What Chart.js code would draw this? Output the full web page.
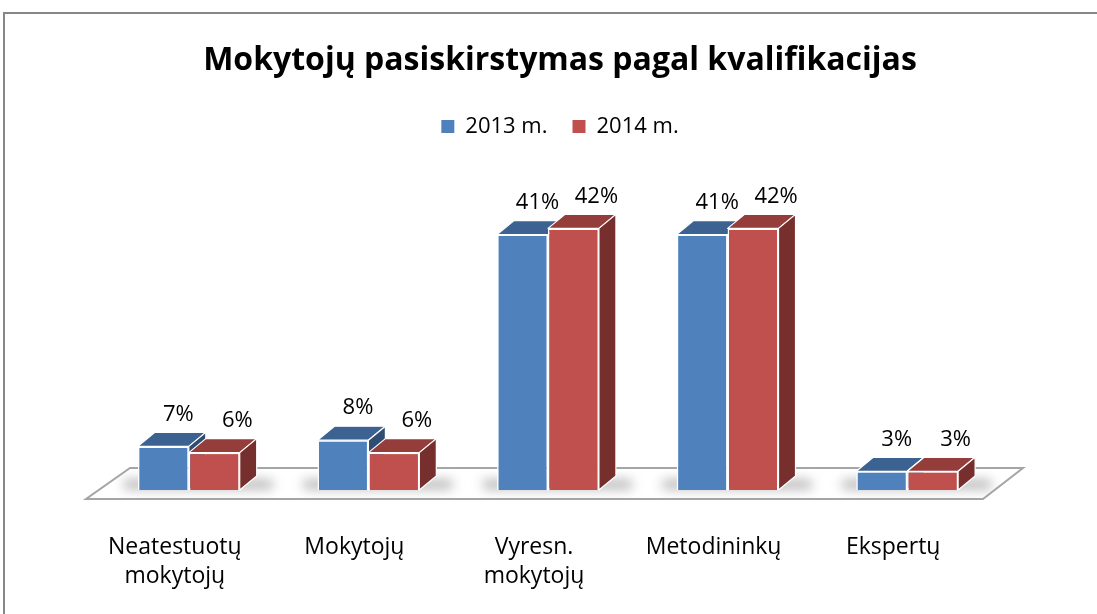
<!DOCTYPE html>
<html>
<head>
<meta charset="utf-8">
<script src="https://cdn.jsdelivr.net/npm/chart.js@4.4.1/dist/chart.umd.min.js"></script>
<style>
  html, body { margin: 0; padding: 0; background: #fff; overflow: hidden; }
  #frame { position: absolute; left: 3px; top: 12px; width: 1200px; height: 700px; border: 2px solid #878787; }
  #wrap { position: absolute; left: 0; top: 0; width: 1097px; height: 614px; }
</style>
</head>
<body>
<div id="frame"></div>
<div id="wrap"><canvas id="myChart"></canvas></div>
<script>
  const categories = [['Neatestuotų', 'mokytojų'], 'Mokytojų', ['Vyresn.', 'mokytojų'], 'Metodininkų', 'Ekspertų'];
  const seriesNames = ['2013 m.', '2014 m.'];
  const values2013 = [7, 8, 41, 41, 3];
  const values2014 = [6, 6, 42, 42, 3];

  const frontColors = ['#4F81BD', '#C0504D'];
  const topColors = ['#3C6291', '#953D3A'];
  const sideColors = ['#2F4D73', '#772F2E'];
  const depthX = 17, depthY = -14; // fake 3d depth
  const labelShift = [-2, 6];

  function barProps(bar) {
    return bar.getProps(['x', 'y', 'base', 'width'], true);
  }

  function drawFaces(ctx, bar, i) {
    const { x, y, base, width } = barProps(bar);
    const l = x - width / 2, r = x + width / 2;
    ctx.save();
    ctx.strokeStyle = '#fff';
    ctx.lineWidth = 1.2;
    ctx.lineJoin = 'round';
    // top face
    ctx.beginPath();
    ctx.moveTo(l, y);
    ctx.lineTo(r, y);
    ctx.lineTo(r + depthX, y + depthY);
    ctx.lineTo(l + depthX, y + depthY);
    ctx.closePath();
    ctx.fillStyle = topColors[i];
    ctx.fill();
    ctx.stroke();
    // right side
    ctx.beginPath();
    ctx.moveTo(r, y);
    ctx.lineTo(r + depthX, y + depthY);
    ctx.lineTo(r + depthX, base + depthY);
    ctx.lineTo(r, base);
    ctx.closePath();
    ctx.fillStyle = sideColors[i];
    ctx.fill();
    ctx.stroke();
    ctx.restore();
  }

  const bar3d = {
    id: 'bar3d',
    beforeDatasetsDraw(chart) {
      const { ctx, chartArea } = chart;
      const base = chart.scales.y.getPixelForValue(0);
      const L = chartArea.left, R = chartArea.right;
      ctx.save();
      ctx.beginPath();
      ctx.moveTo(L - 13, base + 9);
      ctx.lineTo(R - 14, base + 9);
      ctx.lineTo(R + 26, base - 22);
      ctx.lineTo(L + 31, base - 22);
      ctx.closePath();
      ctx.fillStyle = '#fff';
      ctx.fill();
      // soft shadows under the bar groups
      ctx.save();
      ctx.clip();
      ctx.filter = 'blur(6px)';
      ctx.fillStyle = 'rgba(0,0,0,0.3)';
      const m0 = chart.getDatasetMeta(0), m1 = chart.getDatasetMeta(1);
      m0.data.forEach((b, k) => {
        const p0 = barProps(b), p1 = barProps(m1.data[k]);
        const gl = p0.x - p0.width / 2, gr = p1.x + p1.width / 2;
        ctx.fillRect(gl - 14, base - 10, gr - gl + depthX + 30, 9);
      });
      ctx.restore();
      ctx.strokeStyle = '#A5A5A5';
      ctx.lineWidth = 2;
      ctx.stroke();
      ctx.restore();
    },
    afterDatasetsDraw(chart) {
      const { ctx } = chart;
      const m0 = chart.getDatasetMeta(0), m1 = chart.getDatasetMeta(1);
      // redraw in depth order: blue faces, red front, red faces
      m0.data.forEach((b, k) => {
        drawFaces(ctx, b, 0);
        m1.data[k].draw(ctx);
        drawFaces(ctx, m1.data[k], 1);
      });
      ctx.save();
      ctx.font = '22px "Open Sans"';
      ctx.fillStyle = '#000';
      ctx.textAlign = 'center';
      ctx.textBaseline = 'bottom';
      [m0, m1].forEach((meta, i) => {
        const vals = chart.data.datasets[i].data;
        meta.data.forEach((b, k) => {
          const { x, y } = barProps(b);
          ctx.fillText(vals[k] + '%', x + depthX + labelShift[i], y + depthY - 7);
        });
      });
      ctx.restore();
    }
  };

  const ctx = document.getElementById('myChart').getContext('2d');
  const chart = new Chart(ctx, {
    type: 'bar',
    data: {
      labels: categories,
      datasets: [
        { label: seriesNames[0], data: values2013, backgroundColor: frontColors[0], borderColor: '#fff', borderWidth: 1.5 },
        { label: seriesNames[1], data: values2014, backgroundColor: frontColors[1], borderColor: '#fff', borderWidth: 1.5 }
      ]
    },
    options: {
      responsive: true,
      maintainAspectRatio: false,
      animation: false,
      layout: { padding: { top: 35, left: 99, right: 76, bottom: 0 } },
      datasets: { bar: { categoryPercentage: 0.567, barPercentage: 1 } },
      scales: {
        x: {
          grid: { display: false },
          border: { display: false },
          ticks: {
            color: '#000',
            font: { family: 'Open Sans', size: 23, lineHeight: 1.26 },
            padding: 35,
            labelOffset: -14,
            maxRotation: 0
          },
          afterFit(scale) { scale.height = 124; }
        },
        y: {
          position: 'right',
          min: 0,
          max: 55,
          grid: { display: false },
          border: { display: false },
          ticks: { display: false },
          afterFit(scale) { scale.width = 24; }
        }
      },
      plugins: {
        tooltip: { enabled: false },
        title: {
          display: true,
          text: 'Mokytojų pasiskirstymas pagal kvalifikacijas',
          color: '#000',
          font: { family: 'Open Sans', size: 32, weight: 'bold', lineHeight: 1.2 },
          padding: { top: 7, bottom: 10 }
        },
        legend: {
          labels: {
            color: '#000',
            font: { family: 'Open Sans', size: 22 },
            boxWidth: 13,
            boxHeight: 13,
            padding: 25,
            generateLabels(c) {
              return Chart.defaults.plugins.legend.labels.generateLabels(c).map(item => {
                item.strokeStyle = item.fillStyle;
                item.lineWidth = 0;
                return item;
              });
            }
          }
        }
      }
    },
    plugins: [bar3d]
  });
</script>
</body>
</html>
